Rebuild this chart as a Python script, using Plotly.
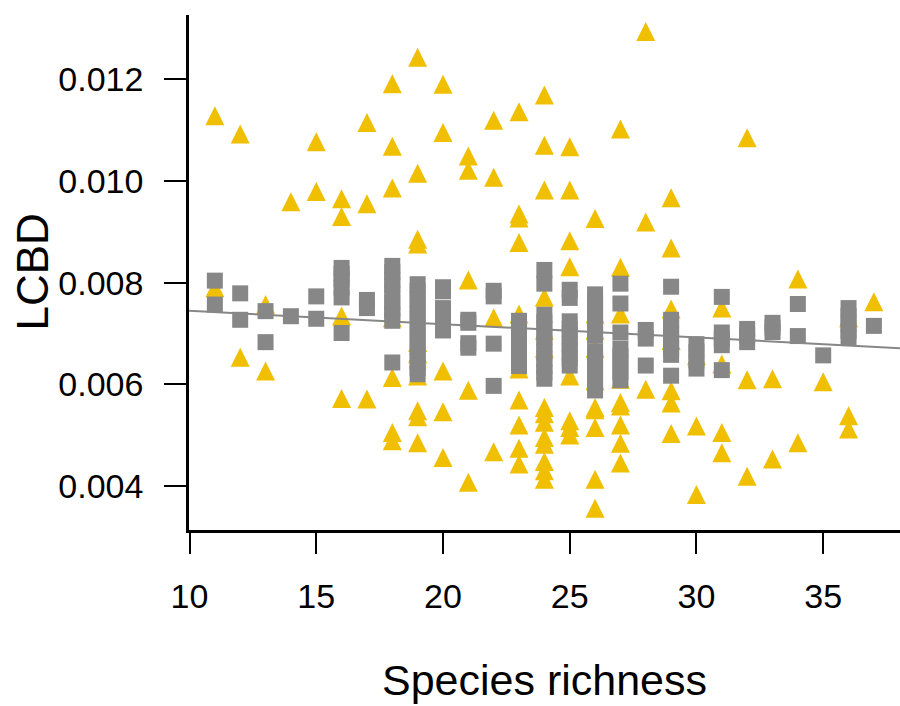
import plotly.graph_objects as go

# ---- data ----
tri_x = [11, 11,
         12, 12,
         13, 13,
         14,
         15, 15,
         16, 16, 16, 16,
         17, 17, 17,
         18, 18, 18, 18, 18, 18, 18,
         19, 19, 19, 19, 19, 19, 19, 19, 19, 19,
         20, 20, 20, 20, 20,
         21, 21, 21, 21, 21,
         22, 22, 22, 22,
         23, 23, 23, 23, 23, 23, 23, 23, 23, 23,
         24, 24, 24, 24, 24, 24, 24, 24, 24, 24, 24, 24, 24, 24,
         25, 25, 25, 25, 25, 25, 25, 25,
         26, 26, 26, 26, 26, 26, 26, 26, 26, 26,
         27, 27, 27, 27, 27, 27, 27, 27, 27,
         28, 28, 28,
         29, 29, 29, 29, 29, 29, 29,
         30, 30, 30,
         31, 31, 31, 31,
         32, 32, 32,
         33, 33,
         34, 34,
         35,
         36, 36, 36,
         37]
tri_y = [0.01122, 0.00784,
         0.01086, 0.00647,
         0.00751, 0.00620,
         0.00953,
         0.01071, 0.00973,
         0.00959, 0.00924, 0.00728, 0.00566,
         0.01109, 0.00949, 0.00565,
         0.01185, 0.01062, 0.00980, 0.00725, 0.00607, 0.00499, 0.00483,
         0.01237, 0.01009, 0.00879, 0.00870, 0.00676, 0.00654, 0.00610, 0.00542, 0.00530, 0.00479,
         0.01184, 0.01089, 0.00620, 0.00540, 0.00450,
         0.01043, 0.01015, 0.00799, 0.00582, 0.00401,
         0.01113, 0.01001, 0.00725, 0.00461,
         0.01130, 0.00929, 0.00921, 0.00873, 0.00732, 0.00624, 0.00563, 0.00514, 0.00468, 0.00437,
         0.01163, 0.01064, 0.00976, 0.00765, 0.00700, 0.00665, 0.00548, 0.00536, 0.00519, 0.00489,
         0.00476, 0.00442, 0.00424, 0.00407,
         0.01061, 0.00976, 0.00876, 0.00825, 0.00610, 0.00522, 0.00509, 0.00494,
         0.00920, 0.00732, 0.00700, 0.00665, 0.00601, 0.00548, 0.00544, 0.00509, 0.00407, 0.00350,
         0.01096, 0.00824, 0.00732, 0.00604, 0.00558, 0.00551, 0.00514, 0.00478, 0.00439,
         0.01288, 0.00913, 0.00584,
         0.00961, 0.00862, 0.00742, 0.00680, 0.00581, 0.00557, 0.00497,
         0.00650, 0.00512, 0.00377,
         0.00744, 0.00634, 0.00499, 0.00459,
         0.01079, 0.00603, 0.00413,
         0.00605, 0.00447,
         0.00801, 0.00479,
         0.00599,
         0.00725, 0.00532, 0.00506,
         0.00756]

sq_x = [11, 11,
        12, 12,
        13, 13,
        14,
        15, 15,
        16, 16, 16, 16, 16, 16,
        17, 17,
        18, 18, 18, 18, 18, 18, 18, 18, 18, 18,
        19, 19, 19, 19, 19, 19, 19, 19, 19, 19, 19, 19, 19,
        20, 20, 20, 20, 20,
        21, 21, 21, 21,
        22, 22, 22, 22,
        23, 23, 23, 23, 23, 23, 23,
        24, 24, 24, 24, 24, 24, 24, 24, 24, 24, 24, 24,
        25, 25, 25, 25, 25, 25, 25, 25, 25,
        26, 26, 26, 26, 26, 26, 26, 26, 26, 26, 26, 26, 26,
        27, 27, 27, 27, 27, 27, 27, 27,
        28, 28, 28,
        29, 29, 29, 29, 29, 29, 29, 29,
        30, 30, 30, 30,
        31, 31, 31, 31, 31,
        32, 32, 32,
        33, 33, 33,
        34, 34,
        35,
        36, 36, 36, 36, 36,
        37]
sq_y = [0.00804, 0.00757,
        0.00779, 0.00727,
        0.00744, 0.00683,
        0.00734,
        0.00773, 0.00729,
        0.00829, 0.00818, 0.00806, 0.00790, 0.00771, 0.00701,
        0.00766, 0.00750,
        0.00833, 0.00821, 0.00806, 0.00795, 0.00779, 0.00762, 0.00748, 0.00737, 0.00725, 0.00643,
        0.00797, 0.00784, 0.00768, 0.00752, 0.00738, 0.00721, 0.00705, 0.00690, 0.00674, 0.00660,
        0.00645, 0.00632, 0.00620,
        0.00791, 0.00783, 0.00750, 0.00728, 0.00706,
        0.00727, 0.00721, 0.00681, 0.00672,
        0.00784, 0.00773, 0.00680, 0.00597,
        0.00725, 0.00712, 0.00697, 0.00683, 0.00667, 0.00652, 0.00636,
        0.00825, 0.00798, 0.00737, 0.00722, 0.00708, 0.00693, 0.00678, 0.00664, 0.00650, 0.00636,
        0.00623, 0.00611,
        0.00786, 0.00770, 0.00724, 0.00709, 0.00694, 0.00679, 0.00665, 0.00651, 0.00637,
        0.00777, 0.00762, 0.00748, 0.00733, 0.00718, 0.00707, 0.00696, 0.00665, 0.00651, 0.00636,
        0.00621, 0.00604, 0.00588,
        0.00798, 0.00759, 0.00702, 0.00670, 0.00655, 0.00640, 0.00624, 0.00608,
        0.00707, 0.00690, 0.00637,
        0.00792, 0.00727, 0.00713, 0.00698, 0.00684, 0.00670, 0.00658, 0.00617,
        0.00679, 0.00664, 0.00647, 0.00631,
        0.00772, 0.00702, 0.00690, 0.00677, 0.00628,
        0.00709, 0.00696, 0.00683,
        0.00721, 0.00712, 0.00703,
        0.00758, 0.00695,
        0.00657,
        0.00750, 0.00735, 0.00720, 0.00705, 0.00691,
        0.00715]

fit_x = [9.5, 38.5]
fit_y = [0.00746, 0.00670]

x_ticks = [10, 15, 20, 25, 30, 35]
y_ticks = [0.004, 0.006, 0.008, 0.010, 0.012]
y_tick_labels = ["0.004", "0.006", "0.008", "0.010", "0.012"]

# ---- styling ----
YELLOW = "#EFBF00"
GRAY = "#878787"
FONT = "Arial, Liberation Sans, sans-serif"
Y_RANGE = [0.003135, 0.013265]
TRI_SIZE = 19
# 'arrow-up' puts its apex on the point; the (hidden) base axis of the
# triangles is shifted so the triangle's centroid sits on the value
px_per_unit = (706 - 15 - 176) / (Y_RANGE[1] - Y_RANGE[0])
tri_shift = (2.0 / 3.0 * TRI_SIZE) / px_per_unit

fig = go.Figure()
fig.add_trace(go.Scatter(
    x=tri_x, y=tri_y, mode="markers", yaxis="y",
    marker=dict(symbol="arrow-up", size=TRI_SIZE, color=YELLOW,
                line=dict(width=0)),
    showlegend=False, hoverinfo="x+y"))
fig.add_trace(go.Scatter(
    x=sq_x, y=sq_y, mode="markers", yaxis="y2",
    marker=dict(symbol="square", size=16, color=GRAY, line=dict(width=0)),
    showlegend=False))
fig.add_trace(go.Scatter(
    x=fit_x, y=fit_y, mode="lines", yaxis="y2",
    line=dict(color=GRAY, width=2), showlegend=False, hoverinfo="skip"))

fig.update_layout(
    width=900, height=706,
    margin=dict(l=189, r=0, t=15, b=176),
    paper_bgcolor="white", plot_bgcolor="white",
    font=dict(family=FONT, color="black"),
    xaxis=dict(range=[9.98, 38.03], tickvals=x_ticks, ticks="outside",
               ticklen=21, tickwidth=2, tickcolor="black",
               showline=True, linewidth=2.5, linecolor="black",
               showgrid=False, zeroline=False, automargin=False,
               tickfont=dict(size=34, family=FONT), ticklabelstandoff=13,
               title=dict(text="Species richness", font=dict(size=43, family=FONT),
                          standoff=52)),
    yaxis=dict(range=[Y_RANGE[0] - tri_shift, Y_RANGE[1] - tri_shift],
               showticklabels=False, ticks="", showline=False,
               showgrid=False, zeroline=False, automargin=False),
    yaxis2=dict(range=Y_RANGE, overlaying="y", side="left",
                tickvals=y_ticks, ticktext=y_tick_labels,
                ticks="outside", ticklen=22, tickwidth=2, tickcolor="black",
                showline=True, linewidth=2.5, linecolor="black",
                showgrid=False, zeroline=False, automargin=False,
                tickfont=dict(size=34, family=FONT), ticklabelstandoff=14),
    annotations=[dict(text="LCBD", textangle=-90, showarrow=False,
                      xref="paper", yref="paper",
                      x=(32 - 189) / 711, y=0.5,
                      xanchor="center", yanchor="middle",
                      font=dict(size=44, family=FONT, color="black"))],
)

fig.write_html("out.html")
